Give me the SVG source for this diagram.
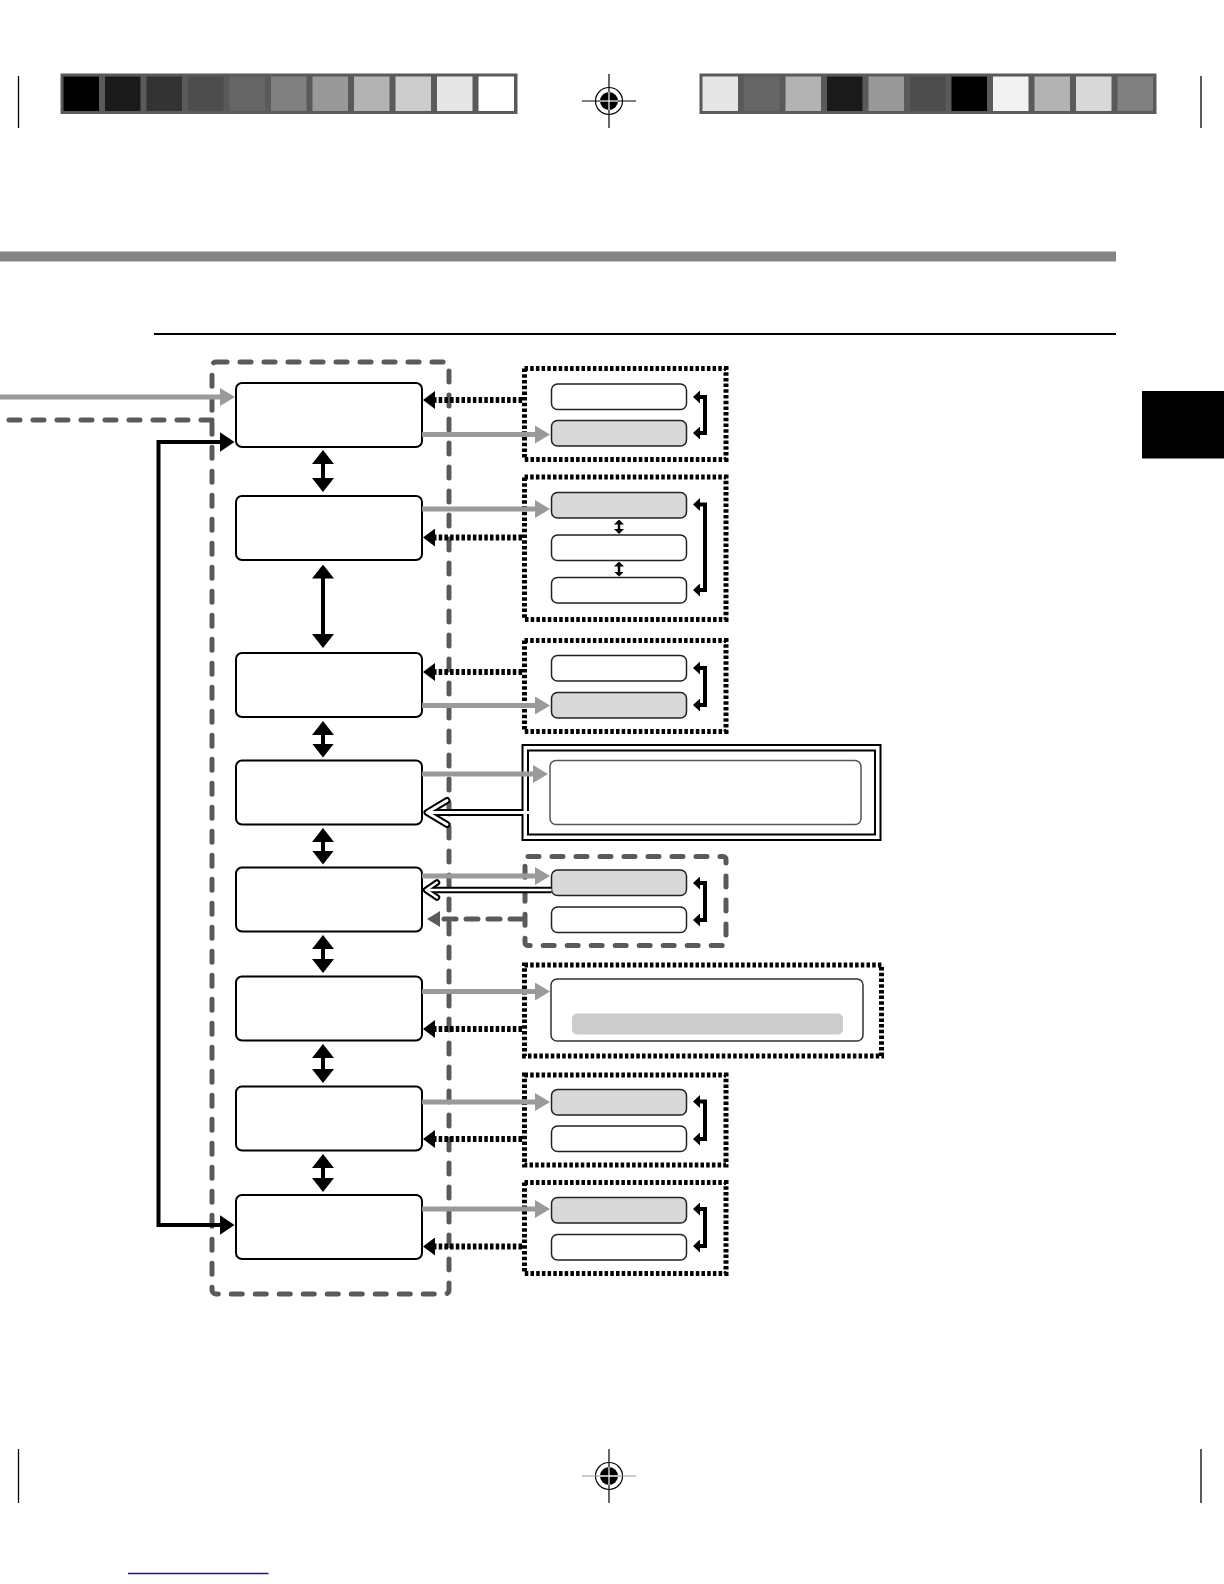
<svg xmlns="http://www.w3.org/2000/svg" width="1224" height="1584" viewBox="0 0 1224 1584">
<style>
.main{fill:#fff;stroke:#000;stroke-width:2}
.sub{fill:#fff;stroke:#222;stroke-width:1.5}
.subg{fill:#d9d9d9;stroke:#222;stroke-width:1.5}
.dot{fill:none;stroke:#000;stroke-width:5;stroke-dasharray:3.5 2.2}
.dash{fill:none;stroke:#5a5a5a;stroke-width:5;stroke-dasharray:11 13;stroke-linecap:round}
.garr{fill:none;stroke:#9a9a9a;stroke-width:5;marker-end:url(#mg)}
.darr{fill:none;stroke:#000;stroke-width:6;stroke-dasharray:3.5 2.2;marker-end:url(#md)}
.varr{fill:none;stroke:#000;stroke-width:4;marker-start:url(#mv);marker-end:url(#mv)}
.brk{fill:none;stroke:#000;stroke-width:4;marker-start:url(#mb);marker-end:url(#mb)}
.hb{fill:none;stroke:#000;stroke-linejoin:round}
.hw{fill:none;stroke:#fff;stroke-linejoin:round}
.crop{stroke:#000;stroke-width:1.3}
</style>
<defs>
<marker id="ml" markerUnits="userSpaceOnUse" viewBox="0 0 15 20" refX="1" refY="10" markerWidth="15" markerHeight="20" orient="auto-start-reverse"><path d="M0,0 L15,10 L0,20 z" fill="#000"/></marker>
<marker id="mv" markerUnits="userSpaceOnUse" viewBox="0 0 14 22" refX="1" refY="11" markerWidth="14" markerHeight="22" orient="auto-start-reverse"><path d="M0,0 L14,11 L0,22 z" fill="#000"/></marker>
<marker id="mg" markerUnits="userSpaceOnUse" viewBox="0 0 15 18" refX="1" refY="9" markerWidth="15" markerHeight="18" orient="auto"><path d="M0,0 L15,9 L0,18 z" fill="#9a9a9a"/></marker>
<marker id="md" markerUnits="userSpaceOnUse" viewBox="0 0 12 18" refX="1" refY="9" markerWidth="12" markerHeight="18" orient="auto"><path d="M0,0 L12,9 L0,18 z" fill="#000"/></marker>
<marker id="mdg" markerUnits="userSpaceOnUse" viewBox="0 0 13 16" refX="1" refY="8" markerWidth="13" markerHeight="16" orient="auto"><path d="M0,0 L13,8 L0,16 z" fill="#5a5a5a"/></marker>
<marker id="mb" markerUnits="userSpaceOnUse" viewBox="0 0 7 13" refX="1" refY="6.5" markerWidth="7" markerHeight="13" orient="auto-start-reverse"><path d="M0,0 L7,6.5 L0,13 z" fill="#000"/></marker>
<marker id="ms" markerUnits="userSpaceOnUse" viewBox="0 0 5 10" refX="0.5" refY="5" markerWidth="5" markerHeight="10" orient="auto-start-reverse"><path d="M0,0 L5,5 L0,10 z" fill="#000"/></marker>
</defs>

<!-- print marks -->
<g id="printmarks">
<rect x="60.5" y="73.5" width="457" height="40.5" fill="#5a5a5a"/>
<rect x="63.5" y="76.5" width="35.5" height="34.5" fill="#000"/>
<rect x="105" y="76.5" width="35.5" height="34.5" fill="#1a1a1a"/>
<rect x="146.5" y="76.5" width="35.5" height="34.5" fill="#333"/>
<rect x="188" y="76.5" width="35.5" height="34.5" fill="#4d4d4d"/>
<rect x="229.5" y="76.5" width="35.5" height="34.5" fill="#666"/>
<rect x="271" y="76.5" width="35.5" height="34.5" fill="#808080"/>
<rect x="312.5" y="76.5" width="35.5" height="34.5" fill="#999"/>
<rect x="354" y="76.5" width="35.5" height="34.5" fill="#b3b3b3"/>
<rect x="395.5" y="76.5" width="35.5" height="34.5" fill="#ccc"/>
<rect x="437" y="76.5" width="35.5" height="34.5" fill="#e6e6e6"/>
<rect x="478.5" y="76.5" width="35.5" height="34.5" fill="#fff"/>

<rect x="699.5" y="73.5" width="457" height="40.5" fill="#5a5a5a"/>
<rect x="702.5" y="76.5" width="35.5" height="34.5" fill="#e6e6e6"/>
<rect x="744" y="76.5" width="35.5" height="34.5" fill="#666"/>
<rect x="785.5" y="76.5" width="35.5" height="34.5" fill="#b3b3b3"/>
<rect x="827" y="76.5" width="35.5" height="34.5" fill="#1a1a1a"/>
<rect x="868.5" y="76.5" width="35.5" height="34.5" fill="#999"/>
<rect x="910" y="76.5" width="35.5" height="34.5" fill="#4d4d4d"/>
<rect x="951.5" y="76.5" width="35.5" height="34.5" fill="#000"/>
<rect x="993" y="76.5" width="35.5" height="34.5" fill="#f2f2f2"/>
<rect x="1034.5" y="76.5" width="35.5" height="34.5" fill="#b3b3b3"/>
<rect x="1076" y="76.5" width="35.5" height="34.5" fill="#d9d9d9"/>
<rect x="1117.5" y="76.5" width="35.5" height="34.5" fill="#808080"/>

<line class="crop" x1="18.5" y1="76" x2="18.5" y2="128"/>
<line class="crop" x1="1201" y1="76" x2="1201" y2="128"/>
<line class="crop" x1="18.5" y1="1449" x2="18.5" y2="1503"/>
<line class="crop" x1="1201" y1="1449" x2="1201" y2="1503"/>

<g id="reg-top">
<circle cx="609" cy="101" r="13.5" fill="#fff" stroke="#000" stroke-width="1.2"/>
<circle cx="609" cy="101" r="9" fill="#000"/>
<line x1="582" y1="101" x2="636" y2="101" stroke="#000" stroke-width="1.2"/>
<line x1="609" y1="74" x2="609" y2="128" stroke="#000" stroke-width="1.2"/>
<line x1="600" y1="101" x2="618" y2="101" stroke="#fff" stroke-width="1.2"/>
<line x1="609" y1="92" x2="609" y2="110" stroke="#fff" stroke-width="1.2"/>
</g>
<g id="reg-bottom">
<circle cx="609" cy="1476" r="13.5" fill="#fff" stroke="#000" stroke-width="1.2"/>
<circle cx="609" cy="1476" r="9" fill="#000"/>
<line x1="582" y1="1476" x2="636" y2="1476" stroke="#999" stroke-width="1.2"/>
<line x1="609" y1="1449" x2="609" y2="1503" stroke="#000" stroke-width="1.2"/>
<line x1="600" y1="1476" x2="618" y2="1476" stroke="#fff" stroke-width="1.2"/>
<line x1="609" y1="1467" x2="609" y2="1485" stroke="#fff" stroke-width="1.2"/>
</g>
<line x1="128" y1="1573.5" x2="268.5" y2="1573.5" stroke="#1a1a8c" stroke-width="1.5"/>
</g>

<!-- page decoration -->
<rect x="0" y="251.5" width="1116" height="10" fill="#858585"/>
<line x1="154" y1="334" x2="1116" y2="334" stroke="#000" stroke-width="2"/>
<rect x="1142" y="391" width="82" height="67.5" fill="#000"/>

<!-- main container -->
<rect id="container" class="dash" x="212" y="362" width="237" height="932" rx="4"/>

<!-- main nodes -->
<g id="n1"><rect class="main" x="236" y="383" width="186" height="64" rx="6"/></g>
<g id="n2"><rect class="main" x="236" y="496" width="186" height="64" rx="6"/></g>
<g id="n3"><rect class="main" x="236" y="653" width="186" height="64" rx="6"/></g>
<g id="n4"><rect class="main" x="236" y="760.5" width="186" height="64" rx="6"/></g>
<g id="n5"><rect class="main" x="236" y="867.5" width="186" height="64" rx="6"/></g>
<g id="n6"><rect class="main" x="236" y="976.5" width="186" height="64" rx="6"/></g>
<g id="n7"><rect class="main" x="236" y="1086.5" width="186" height="64" rx="6"/></g>
<g id="n8"><rect class="main" x="236" y="1195" width="186" height="64" rx="6"/></g>

<!-- option groups -->
<g id="g1">
<rect class="dot" x="524.5" y="368.5" width="201.5" height="91"/>
<rect class="sub" x="551.5" y="384" width="135" height="25.5" rx="6"/>
<rect class="subg" x="551.5" y="420.5" width="135" height="25.5" rx="6"/>
<path class="brk" d="M699,397 H705 V433 H699"/>
</g>
<g id="g2">
<rect class="dot" x="524.5" y="477" width="201.5" height="142.5"/>
<rect class="subg" x="551.5" y="492.5" width="135" height="25.5" rx="6"/>
<rect class="sub" x="551.5" y="535" width="135" height="25.5" rx="6"/>
<rect class="sub" x="551.5" y="577.5" width="135" height="25.5" rx="6"/>
<path d="M619,524 V529.5" stroke="#000" stroke-width="2.5" marker-start="url(#ms)" marker-end="url(#ms)"/>
<path d="M619,566 V572" stroke="#000" stroke-width="2.5" marker-start="url(#ms)" marker-end="url(#ms)"/>
<path class="brk" d="M699,504.5 H705 V590 H699"/>
</g>
<g id="g3">
<rect class="dot" x="524.5" y="640.5" width="201.5" height="91"/>
<rect class="sub" x="551.5" y="655.5" width="135" height="25.5" rx="6"/>
<rect class="subg" x="551.5" y="692.5" width="135" height="25.5" rx="6"/>
<path class="brk" d="M699,668 H705 V705 H699"/>
</g>
<g id="g4">
<rect x="522.5" y="745" width="358" height="95" fill="none" stroke="#000" stroke-width="2"/>
<rect x="528" y="750.5" width="347" height="84" fill="none" stroke="#000" stroke-width="2"/>
<rect x="550" y="760.5" width="311" height="64" rx="6" fill="#fff" stroke="#555" stroke-width="1.5"/>
</g>
<g id="g5">
<rect class="dash" x="525" y="856.5" width="201" height="89" rx="3"/>
<rect class="subg" x="551.5" y="870" width="135" height="25.5" rx="6"/>
<rect class="sub" x="551.5" y="907" width="135" height="25.5" rx="6"/>
<path class="brk" d="M699,883 H705 V920 H699"/>
</g>
<g id="g6">
<rect class="dot" x="524.5" y="965" width="357" height="91"/>
<rect x="551" y="979" width="312" height="62" rx="6" fill="#fff" stroke="#333" stroke-width="1.5"/>
<rect x="572" y="1013.5" width="271" height="21" rx="5" fill="#cccccc"/>
</g>
<g id="g7">
<rect class="dot" x="524.5" y="1075" width="201.5" height="90"/>
<rect class="subg" x="551.5" y="1089.5" width="135" height="25.5" rx="6"/>
<rect class="sub" x="551.5" y="1126" width="135" height="25.5" rx="6"/>
<path class="brk" d="M699,1101.5 H705 V1139 H699"/>
</g>
<g id="g8">
<rect class="dot" x="524.5" y="1182.5" width="201.5" height="91"/>
<rect class="subg" x="551.5" y="1197.5" width="135" height="25.5" rx="6"/>
<rect class="sub" x="551.5" y="1234.5" width="135" height="25.5" rx="6"/>
<path class="brk" d="M699,1209 H705 V1246 H699"/>
</g>

<!-- connectors -->
<g id="connectors">
<path class="garr" d="M0,397 H221"/>
<path class="dash" d="M212,420 H-10"/>
<path d="M220.5,442 H158.5 V1225 H220.5" fill="none" stroke="#000" stroke-width="4" marker-start="url(#ml)" marker-end="url(#ml)"/>

<path class="varr" d="M323,463 V479"/>
<path class="varr" d="M323,577.5 V635"/>
<path class="varr" d="M323,734 V744.5"/>
<path class="varr" d="M323,841 V851.5"/>
<path class="varr" d="M323,948 V960"/>
<path class="varr" d="M323,1057 V1070"/>
<path class="varr" d="M323,1167 V1179"/>

<path class="darr" d="M522,400 H434"/>
<path class="garr" d="M422,434.5 H536"/>
<path class="garr" d="M422,509 H536"/>
<path class="darr" d="M522,537.5 H434"/>
<path class="darr" d="M522,672 H434"/>
<path class="garr" d="M422,705.5 H536"/>

<path class="garr" d="M422,774 H534"/>
<path class="hb" stroke-width="7" d="M523,812.5 H432"/>
<path class="hb" stroke-width="7" stroke-linecap="round" d="M447,800.5 L427,812.5 L447,824.5"/>
<path class="hw" stroke-width="3" d="M529.5,812.5 H430"/>
<path class="hw" stroke-width="3" stroke-linecap="round" d="M447,800.5 L427,812.5 L447,824.5"/>

<path class="garr" d="M422,876 H536"/>
<path class="hb" stroke-width="6.5" d="M551.5,890 H430"/>
<path class="hb" stroke-width="6.5" stroke-linecap="round" d="M437,882.5 L426,890 L437,897.5"/>
<path class="hw" stroke-width="2.5" d="M551.5,890 H428"/>
<path class="hw" stroke-width="2.5" stroke-linecap="round" d="M437,882.5 L426,890 L437,897.5"/>
<path d="M522,919 H439" fill="none" stroke="#5a5a5a" stroke-width="5" stroke-dasharray="12 10" stroke-linecap="round" marker-end="url(#mdg)"/>

<path class="garr" d="M422,991.5 H536"/>
<path class="darr" d="M522,1029 H434"/>
<path class="garr" d="M422,1102 H536"/>
<path class="darr" d="M522,1139 H434"/>
<path class="garr" d="M422,1209 H536"/>
<path class="darr" d="M522,1246.5 H434"/>
</g>
</svg>
